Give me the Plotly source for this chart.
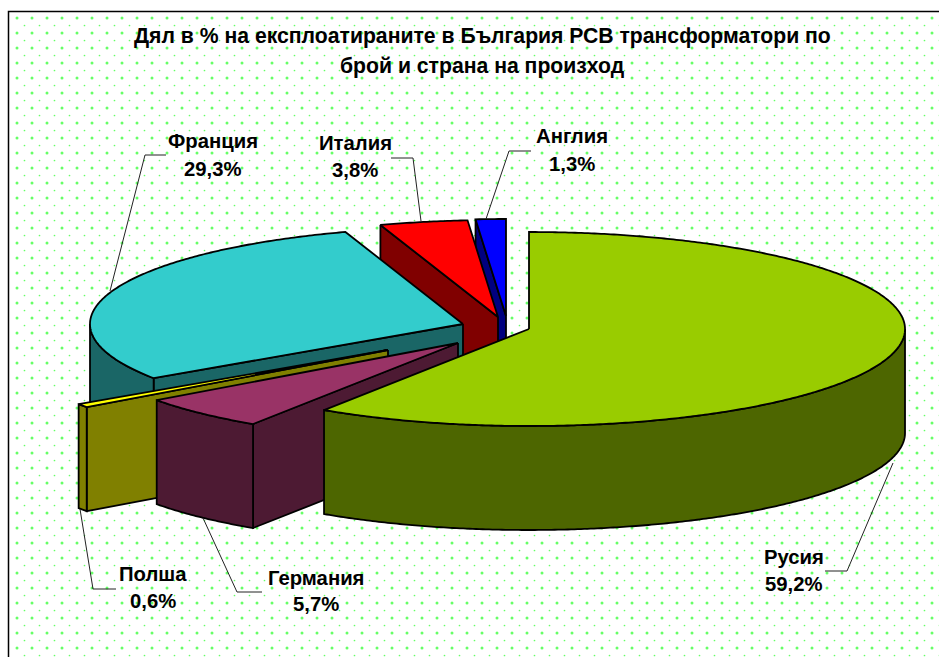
import numpy as np
import plotly.graph_objects as go

# --- data -----------------------------------------------------------------
categories = ["Русия", "Германия", "Полша", "Франция", "Италия", "Англия"]
shares = [59.2, 5.7, 0.6, 29.3, 3.8, 1.3]
title_lines = ["Дял в % на експлоатираните в България РСВ трансформатори по",
               "брой и страна на произход"]

# --- style / layout -------------------------------------------------------
top_colors = ["#99cc00", "#993366", "#ffff00", "#33cccc", "#ff0000", "#0000ff"]
side_colors = ["#4d6600", "#4d1a33", "#808000", "#1a6666", "#800000", "#000080"]
apex = [(529, 329), (458, 343), (388, 350), (463, 324), (498, 317), (506, 316)]
label_pos = [(794, 557, 584), (316, 578, 604), (153, 574, 601),
             (213, 141, 169), (355, 143, 170), (572, 136, 164)]
leaders = [[(893, 463), (847, 571), (825, 571)],
           [(203, 518), (237, 592), (262, 592)],
           [(80, 509), (93, 589), (116, 589)],
           [(110, 291), (145, 155), (166, 155)],
           [(421, 221), (413, 158), (391, 158)],
           [(486, 219), (509, 151), (531, 151)]]
RX_RIGHT, RX_LEFT, RY, DEPTH = 376, 373, 97, 104
draw_order = [5, 4, 3, 2, 1, 0]

W, H = 939, 657
fig = go.Figure()

# dotted background texture
def grid(x0, y0, step=15):
    xs, ys = np.meshgrid(np.arange(x0, W + 1, step), np.arange(y0, H + 1, step))
    return xs.ravel(), ys.ravel()

bx, by = grid(17, 18)
sx, sy = grid(24.5, 25.5)
fig.add_trace(go.Scatter(x=bx, y=by, mode="markers",
                         marker=dict(size=3, color="#66ff66", line_width=0)))
fig.add_trace(go.Scatter(x=sx, y=sy, mode="markers",
                         marker=dict(size=1.7, color="#66ff66", line_width=0)))

# frame: left and top only reach the picture edge
fig.add_trace(go.Scatter(x=[8.5, 8.5, W + 2], y=[H + 2, 11.5, 11.5], mode="lines",
                         line=dict(color="black", width=1.5)))


def poly(xs, ys, color):
    fig.add_trace(go.Scatter(x=list(xs) + [xs[0]], y=list(ys) + [ys[0]], mode="lines",
                             fill="toself", fillcolor=color,
                             line=dict(color="black", width=1.8, simplify=False)))


def point(c, a):
    r = np.radians(a)
    s = np.sin(r)
    return c[0] + np.where(s >= 0, RX_RIGHT, RX_LEFT) * s, c[1] - RY * np.cos(r)


# cumulative angles, clockwise from 12 o'clock
edges = np.concatenate([[0], np.cumsum(shares)]) * 360 / sum(shares)

for i in draw_order:
    c = apex[i]
    a0, a1 = edges[i], edges[i + 1]
    side, top = side_colors[i], top_colors[i]
    # radial cut faces that turn toward the viewer
    if 180 <= a0 < 360:
        px, py = point(c, a0)
        poly([c[0], px, px, c[0]], [c[1], py, py + DEPTH, c[1] + DEPTH], side)
    if 0 < a1 <= 180:
        px, py = point(c, a1)
        poly([c[0], px, px, c[0]], [c[1], py, py + DEPTH, c[1] + DEPTH], side)
    # outer wall (front half of the ellipse)
    w0, w1 = max(a0, 90), min(a1, 270)
    if w1 > w0:
        t = np.linspace(w0, w1, max(3, int((w1 - w0) * 2)))
        ex, ey = point(c, t)
        poly(list(ex) + list(ex[::-1]), list(ey) + list(ey[::-1] + DEPTH), side)
    # top face
    t = np.linspace(a0, a1, max(3, int((a1 - a0) * 2)))
    ex, ey = point(c, t)
    poly([c[0]] + list(ex), [c[1]] + list(ey), top)

# leader lines
for pts in leaders:
    fig.add_trace(go.Scatter(x=[p[0] for p in pts], y=[p[1] for p in pts], mode="lines",
                             line=dict(color="#222222", width=1)))

FONT = "Liberation Sans, Arial, sans-serif"
ann = []
for line, y in zip(title_lines, (36, 66)):
    ann.append(dict(x=482.5, y=y, text=f"<b>{line}</b>", font=dict(size=21.2, color="black", family=FONT)))
for name, v, (x, y1, y2) in zip(categories, shares, label_pos):
    ann.append(dict(x=x, y=y1, text=f"<b>{name}</b>", font=dict(size=20.3, color="black", family=FONT)))
    pct = f"{v:.1f}%".replace(".", ",")
    ann.append(dict(x=x, y=y2, text=f"<b>{pct}</b>", font=dict(size=20.3, color="black", family=FONT)))
for a in ann:
    a.update(xref="x", yref="y", showarrow=False, xanchor="center", yanchor="middle")

fig.update_layout(
    width=W, height=H, margin=dict(l=0, r=0, t=0, b=0),
    paper_bgcolor="white", plot_bgcolor="white", showlegend=False, hovermode=False,
    xaxis=dict(range=[0, W], visible=False, fixedrange=True),
    yaxis=dict(range=[H, 0], visible=False, fixedrange=True),
    annotations=ann,
)
fig.write_html("out.html", config={"displayModeBar": False},
               post_script="document.body.style.margin='0';document.documentElement.style.overflow='hidden';")
